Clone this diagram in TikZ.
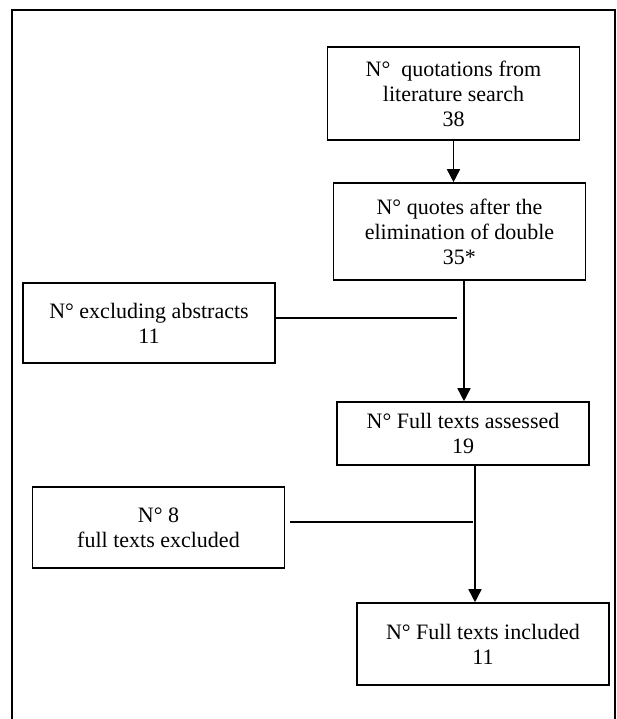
\documentclass[tikz,border=0pt]{standalone}
\usepackage{fontspec}
\setmainfont{Liberation Serif}
\usetikzlibrary{arrows.meta}

\begin{document}
\begin{tikzpicture}[
    x = 0.5pt, y = -0.5pt,
    line width = 0.8pt,
    >={Triangle[length = 6.5pt, width = 6.5pt]},
    %
    stage/.style = {draw,
      align = center,
      font = \fontsize{11}{12.5}\selectfont,
      minimum width = 126pt,
      inner sep = 0pt},
    ]

    \useasboundingbox (0, 0) rectangle (617, 719);
    \draw (12, 719) -- (12, 10) -- (615, 10) -- (615, 719);

    \node at (453.5, 93.5)
    [stage, minimum height = 46.5pt, name = search]
    {N°~ quotations from\\literature search\\38};
    \node at (459.5, 231.5)
    [stage, minimum height = 48.5pt, name = doubles]
    {N° quotes after the\\elimination of double\\35*};

    \node at (149, 323)
    [stage, minimum height = 40pt, name = abstracts]
    {N° excluding abstracts\\11};
    \node at (463, 433.5)
    [stage, minimum height = 31.5pt, name = assessed]
    {N° Full texts assessed\\19};

    \node at (158.5, 527.5)
    [stage, minimum height = 40.5pt, name = excluded]
    {N° 8\\full texts excluded};
    \node at (483, 644)
    [stage, minimum height = 41pt, name = included]
    {N° Full texts included\\11};

    \coordinate (join1) at (464, 318);
    \coordinate (join2) at (475, 522);

    \draw [->] (search.south) -- (search.south |- doubles.north);
    \draw [->] (doubles.south -| join1) -- (assessed.north -| join1);
    \draw [shorten >= 3.5pt] (abstracts.east |- join1) -- (join1);

    \draw [->] (assessed.south -| join2) -- (included.north -| join2);
    \draw [shorten <= 2.5pt, shorten >= 1pt] (excluded.east |- join2) -- (join2);

  \end{tikzpicture}
\end{document}
